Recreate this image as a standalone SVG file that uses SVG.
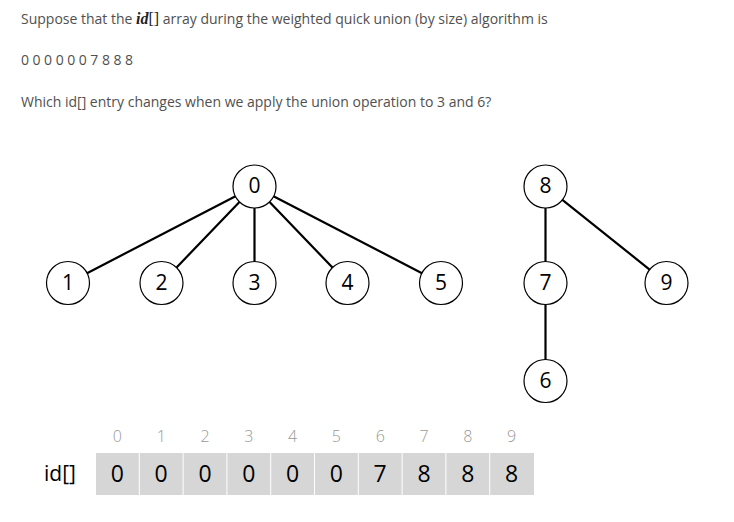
<svg xmlns="http://www.w3.org/2000/svg" width="734" height="522" viewBox="0 0 734 522">
<style>
.q{font-family:"Open Sans","Liberation Sans",sans-serif;font-size:14px;fill:#505050}
.m{font-family:"Liberation Serif",serif;font-size:16px;fill:#222}
.node circle{fill:#fff;stroke:#000;stroke-width:1.2}
.node text{font-family:"Open Sans","Liberation Sans",sans-serif;font-size:21px;fill:#000;text-anchor:middle}
.edges line{stroke:#000;stroke-width:2.2;stroke-linecap:round}
.cell{fill:#d6d6d6}
.idx{font-family:"Open Sans","Liberation Sans",sans-serif;font-size:16px;font-weight:300;fill:#999;text-anchor:middle}
.val{font-family:"Open Sans","Liberation Sans",sans-serif;font-size:23px;fill:#000;text-anchor:middle}
.lbl{font-family:"Open Sans","Liberation Sans",sans-serif;font-size:21px;fill:#000}
</style>
<rect width="734" height="522" fill="#fff"/>
<g id="question">
<text class="q" x="21" y="24">Suppose that the <tspan class="m" font-style="italic" font-weight="bold">id</tspan><tspan class="m">[]</tspan> array during the weighted quick union (by size) algorithm is</text>
<text class="q" x="21" y="65" font-size="13" textLength="112" lengthAdjust="spacing">0 0 0 0 0 0 7 8 8 8</text>
<text class="q" x="21" y="107">Which id[] entry changes when we apply the union operation to 3 and 6?</text>
</g>
<g id="edges" class="edges">
<line x1="235" y1="196.6" x2="87.5" y2="272.9"/>
<line x1="239.2" y1="202.3" x2="176.8" y2="267.2"/>
<line x1="254.5" y1="208.5" x2="254.5" y2="261"/>
<line x1="269.8" y1="202.3" x2="332.2" y2="267.2"/>
<line x1="274" y1="196.6" x2="421.5" y2="272.9"/>
<line x1="545.5" y1="208.5" x2="545.5" y2="261"/>
<line x1="545.5" y1="305" x2="545.5" y2="359"/>
<line x1="562.7" y1="200.2" x2="649.3" y2="269.3"/>
</g>
<g id="n0" class="node"><circle cx="254.5" cy="186.5" r="21.5"/><text x="254.5" y="193">0</text></g>
<g id="n1" class="node"><circle cx="68" cy="283" r="21.5"/><text x="68" y="290">1</text></g>
<g id="n2" class="node"><circle cx="161.5" cy="283" r="21.5"/><text x="161.5" y="290">2</text></g>
<g id="n3" class="node"><circle cx="254.5" cy="283" r="21.5"/><text x="254.5" y="290">3</text></g>
<g id="n4" class="node"><circle cx="347.5" cy="283" r="21.5"/><text x="347.5" y="290">4</text></g>
<g id="n5" class="node"><circle cx="441" cy="283" r="21.5"/><text x="441" y="290">5</text></g>
<g id="n8" class="node"><circle cx="545.5" cy="186.5" r="21.5"/><text x="545.5" y="193">8</text></g>
<g id="n7" class="node"><circle cx="545.5" cy="283" r="21.5"/><text x="545.5" y="290">7</text></g>
<g id="n9" class="node"><circle cx="666.5" cy="283" r="21.5"/><text x="666.5" y="290">9</text></g>
<g id="n6" class="node"><circle cx="545.5" cy="381" r="21.5"/><text x="545.5" y="388">6</text></g>
<g id="array">
<text class="lbl" x="44" y="481">id[]</text>
<rect class="cell" x="96" y="453" width="42.8" height="42"/>
<rect class="cell" x="139.8" y="453" width="42.8" height="42"/>
<rect class="cell" x="183.6" y="453" width="42.8" height="42"/>
<rect class="cell" x="227.4" y="453" width="42.8" height="42"/>
<rect class="cell" x="271.2" y="453" width="42.8" height="42"/>
<rect class="cell" x="315" y="453" width="42.8" height="42"/>
<rect class="cell" x="358.8" y="453" width="42.8" height="42"/>
<rect class="cell" x="402.6" y="453" width="42.8" height="42"/>
<rect class="cell" x="446.4" y="453" width="42.8" height="42"/>
<rect class="cell" x="490.2" y="453" width="43.8" height="42"/>
<text class="idx" x="117.4" y="442">0</text>
<text class="idx" x="161.2" y="442">1</text>
<text class="idx" x="205" y="442">2</text>
<text class="idx" x="248.8" y="442">3</text>
<text class="idx" x="292.6" y="442">4</text>
<text class="idx" x="336.4" y="442">5</text>
<text class="idx" x="380.2" y="442">6</text>
<text class="idx" x="424" y="442">7</text>
<text class="idx" x="467.8" y="442">8</text>
<text class="idx" x="511.6" y="442">9</text>
<text class="val" x="117.4" y="482">0</text>
<text class="val" x="161.2" y="482">0</text>
<text class="val" x="205" y="482">0</text>
<text class="val" x="248.8" y="482">0</text>
<text class="val" x="292.6" y="482">0</text>
<text class="val" x="336.4" y="482">0</text>
<text class="val" x="380.2" y="482">7</text>
<text class="val" x="424" y="482">8</text>
<text class="val" x="467.8" y="482">8</text>
<text class="val" x="511.6" y="482">8</text>
</g>
</svg>
